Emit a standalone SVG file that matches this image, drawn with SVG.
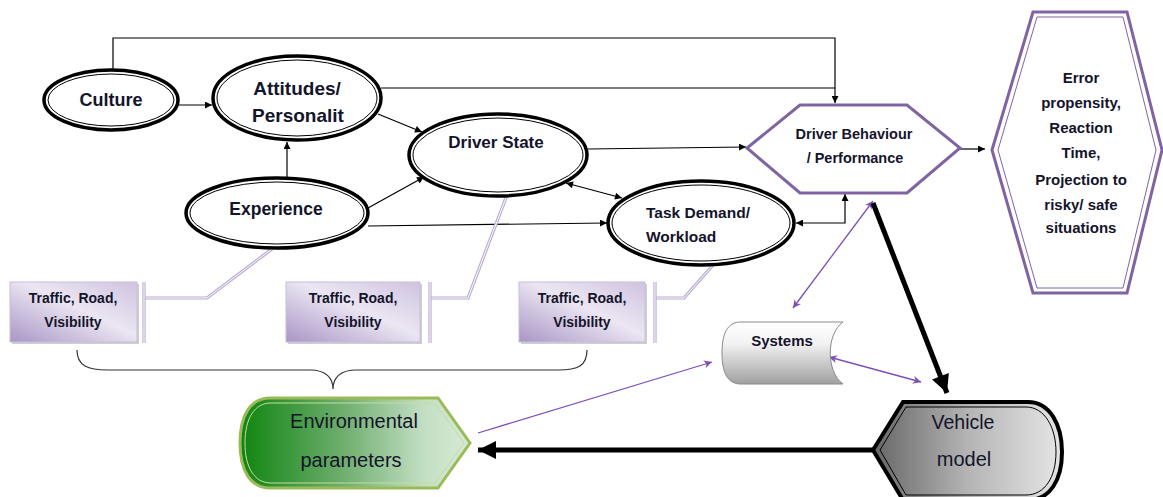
<svg xmlns="http://www.w3.org/2000/svg" width="1163" height="497" viewBox="0 0 1163 497">
<defs>
<style>
.t{font-family:"Liberation Sans",Arial,sans-serif;fill:#14142b;text-anchor:middle}
.b{font-weight:bold}
.eo{fill:#fff;stroke:#000;stroke-width:3.5}
.ei{fill:none;stroke:#000;stroke-width:1}
.c{fill:none;stroke:#000;stroke-width:1.2}
.pc{fill:none;stroke:#7d4fb8;stroke-width:1.3}
.thick{fill:none;stroke:#000;stroke-width:5}
.lo{fill:none;stroke:#b9abd2;stroke-width:3.2}
.li{fill:none;stroke:#fff;stroke-width:1}
.box{stroke:#c8bedb;stroke-width:1;fill:url(#gBox)}
</style>
<linearGradient id="gBox" x1="0" y1="1" x2="1" y2="0">
<stop offset="0" stop-color="#a995c6"/>
<stop offset="0.55" stop-color="#ebe6f2"/>
<stop offset="1" stop-color="#cfc3e0"/>
</linearGradient>
<linearGradient id="gSys" x1="0" y1="0" x2="0" y2="1">
<stop offset="0" stop-color="#ffffff"/>
<stop offset="0.35" stop-color="#f2f2f2"/>
<stop offset="1" stop-color="#a0a0a0"/>
</linearGradient>
<linearGradient id="gEnv" x1="0" y1="0" x2="1" y2="0">
<stop offset="0" stop-color="#0f840f"/>
<stop offset="0.45" stop-color="#6fae6f"/>
<stop offset="0.8" stop-color="#c3dfc3"/>
<stop offset="1" stop-color="#d6ead6"/>
</linearGradient>
<linearGradient id="gVeh" x1="0" y1="0" x2="1" y2="0">
<stop offset="0" stop-color="#666666"/>
<stop offset="0.5" stop-color="#b4b4b4"/>
<stop offset="1" stop-color="#e6e6e6"/>
</linearGradient>
<marker id="a" viewBox="0 0 10 10" refX="10" refY="5" markerWidth="8" markerHeight="7" markerUnits="userSpaceOnUse" orient="auto-start-reverse">
<path d="M0,0 L10,5 L0,10 z" fill="#000"/>
</marker>
<marker id="p" viewBox="0 0 10 10" refX="10" refY="5" markerWidth="9" markerHeight="8" markerUnits="userSpaceOnUse" orient="auto-start-reverse">
<path d="M0,0 L10,5 L0,10 L3,5 z" fill="#7d4fb8"/>
</marker>
<marker id="big" viewBox="0 0 10 10" refX="10" refY="5" markerWidth="20" markerHeight="18" markerUnits="userSpaceOnUse" orient="auto">
<path d="M0,0 L10,5 L0,10 z" fill="#000"/>
</marker>
</defs>
<rect width="1163" height="497" fill="#fff"/>

<g id="connectors">
<polyline class="c" points="113,70 113,38 835,38 835,103" marker-end="url(#a)"/>
<polyline class="c" points="381,88 835,88"/>
<line class="c" x1="178" y1="105" x2="212" y2="105" marker-end="url(#a)"/>
<line class="c" x1="287" y1="177" x2="287" y2="142" marker-end="url(#a)"/>
<line class="c" x1="378" y1="114" x2="422" y2="132" marker-end="url(#a)"/>
<line class="c" x1="368" y1="208" x2="424" y2="177" marker-end="url(#a)"/>
<line class="c" x1="368" y1="226" x2="607" y2="223" marker-end="url(#a)"/>
<line class="c" x1="566" y1="183" x2="622" y2="198" marker-start="url(#a)" marker-end="url(#a)"/>
<line class="c" x1="588" y1="149" x2="746" y2="147" marker-end="url(#a)"/>
<line class="c" x1="960" y1="149" x2="985" y2="149" marker-end="url(#a)"/>
<polyline class="c" points="796,223 845,223 845,194" marker-start="url(#a)" marker-end="url(#a)"/>
<line class="pc" x1="793" y1="308" x2="873" y2="201" marker-start="url(#p)" marker-end="url(#p)"/>
<line class="pc" x1="829" y1="357" x2="921" y2="382" marker-start="url(#p)" marker-end="url(#p)"/>
<line class="pc" x1="478" y1="433" x2="712" y2="362" marker-end="url(#p)"/>
<line class="thick" x1="873" y1="203" x2="947" y2="393" marker-end="url(#big)"/>
<line class="thick" x1="874" y1="450" x2="478" y2="450" marker-end="url(#big)"/>
<polyline class="lo" points="145,298 207,298 272,249"/>
<polyline class="li" points="145,298 207,298 272,249"/>
<polyline class="lo" points="430,298 468,298 507,195"/>
<polyline class="li" points="430,298 468,298 507,195"/>
<polyline class="lo" points="655,298 684,298 714,264"/>
<polyline class="li" points="655,298 684,298 714,264"/>
<line class="lo" x1="144" y1="282" x2="144" y2="343"/>
<line class="li" x1="144" y1="282" x2="144" y2="343"/>
<line class="lo" x1="430" y1="282" x2="430" y2="343"/>
<line class="li" x1="430" y1="282" x2="430" y2="343"/>
<line class="lo" x1="655" y1="282" x2="655" y2="343"/>
<line class="li" x1="655" y1="282" x2="655" y2="343"/>
<path d="M77,350 C77,366 88,370 108,370 H310 C326,370 333,378 333,389 C333,378 340,370 356,370 H558 C578,370 587,366 587,350" fill="none" stroke="#333" stroke-width="1.2"/>
</g>

<g id="culture">
<ellipse class="eo" cx="111" cy="100" rx="67" ry="30"/>
<ellipse class="ei" cx="111" cy="100" rx="63" ry="26"/>
<text class="t b" x="111" y="106" font-size="18">Culture</text>
</g>
<g id="attitudes">
<ellipse class="eo" cx="297" cy="98" rx="84" ry="42"/>
<ellipse class="ei" cx="297" cy="98" rx="80" ry="38"/>
<text class="t b" x="297" y="95" font-size="19">Attitudes/</text>
<text class="t b" x="298" y="122" font-size="19">Personalit</text>
</g>
<g id="experience">
<ellipse class="eo" cx="277" cy="213" rx="91" ry="35"/>
<ellipse class="ei" cx="277" cy="213" rx="87" ry="31"/>
<text class="t b" x="276" y="215" font-size="17.5">Experience</text>
</g>
<g id="driver-state">
<ellipse class="eo" cx="498" cy="155" rx="89" ry="41"/>
<ellipse class="ei" cx="498" cy="155" rx="85" ry="37"/>
<text class="t b" x="496" y="148" font-size="17">Driver State</text>
</g>
<g id="task-demand">
<ellipse class="eo" cx="701" cy="223" rx="93" ry="42"/>
<ellipse class="ei" cx="701" cy="223" rx="89" ry="38"/>
<text class="t b" x="646" y="218" font-size="15.5" style="text-anchor:start">Task Demand/</text>
<text class="t b" x="646" y="242" font-size="15.5" style="text-anchor:start">Workload</text>
</g>
<g id="driver-behaviour">
<polygon points="747,148 800,105 907,105 960,148 907,193 800,193" fill="#fff" stroke="#8064a2" stroke-width="3"/>
<text class="t b" x="854" y="139" font-size="14.5">Driver Behaviour</text>
<text class="t b" x="855" y="163" font-size="14.5">/ Performance</text>
</g>
<g id="error">
<polygon points="992,150 1033,12 1127,12 1162,150 1127,293 1033,293" fill="#fff" stroke="#8064a2" stroke-width="3"/>
<polygon points="998,150 1037,17 1123,17 1156,150 1123,288 1037,288" fill="none" stroke="#8064a2" stroke-width="1"/>
<text class="t b" x="1081" y="83" font-size="15">Error</text>
<text class="t b" x="1081" y="108" font-size="15">propensity,</text>
<text class="t b" x="1081" y="133" font-size="15">Reaction</text>
<text class="t b" x="1081" y="158" font-size="15">Time,</text>
<text class="t b" x="1081" y="185" font-size="15">Projection to</text>
<text class="t b" x="1081" y="210" font-size="15">risky/ safe</text>
<text class="t b" x="1081" y="233" font-size="15">situations</text>
</g>
<g id="traffic1">
<rect x="12" y="284" width="127" height="60" fill="#cfcfcf"/>
<rect class="box" x="10" y="282" width="127" height="60"/>
<text class="t b" x="73" y="303" font-size="14">Traffic, Road,</text>
<text class="t b" x="73" y="327" font-size="14">Visibility</text>
</g>
<g id="traffic2">
<rect x="288" y="284" width="134" height="60" fill="#cfcfcf"/>
<rect class="box" x="286" y="282" width="134" height="60"/>
<text class="t b" x="353" y="303" font-size="14">Traffic, Road,</text>
<text class="t b" x="353" y="327" font-size="14">Visibility</text>
</g>
<g id="traffic3">
<rect x="521" y="284" width="126" height="60" fill="#cfcfcf"/>
<rect class="box" x="519" y="282" width="126" height="60"/>
<text class="t b" x="582" y="303" font-size="14">Traffic, Road,</text>
<text class="t b" x="582" y="327" font-size="14">Visibility</text>
</g>
<g id="systems">
<path d="M741,322 H843 C826,334 826,372 843,384 H741 C727,384 722,372 722,353 C722,334 727,322 741,322 Z" fill="url(#gSys)" stroke="#8a8a8a" stroke-width="1"/>
<text class="t b" x="782" y="346" font-size="15">Systems</text>
</g>
<g id="environmental">
<path d="M270,398 H438 L470,443 L438,488 H270 C250,488 240,470 240,443 C240,416 250,398 270,398 Z" fill="url(#gEnv)" stroke="#9bbb59" stroke-width="3"/>
<path d="M271,403 H435 L464,443 L435,483 H271 C254,483 245,467 245,443 C245,419 254,403 271,403 Z" fill="none" stroke="#c6dc9e" stroke-width="1"/>
<text class="t" x="354" y="428" font-size="20">Environmental</text>
<text class="t" x="351" y="467" font-size="20">parameters</text>
</g>
<g id="vehicle">
<path d="M873,450 L903,402 H1028 C1050,402 1062,425 1062,452 C1062,480 1050,500 1028,500 H903 Z" fill="url(#gVeh)" stroke="#000" stroke-width="4"/>
<path d="M880,450 L906,407 H1026 C1045,407 1056,428 1056,452 C1056,477 1045,495 1026,495 H906 Z" fill="none" stroke="#000" stroke-width="1"/>
<text class="t" x="963" y="429" font-size="19.5">Vehicle</text>
<text class="t" x="964" y="466" font-size="20">model</text>
</g>
</svg>
